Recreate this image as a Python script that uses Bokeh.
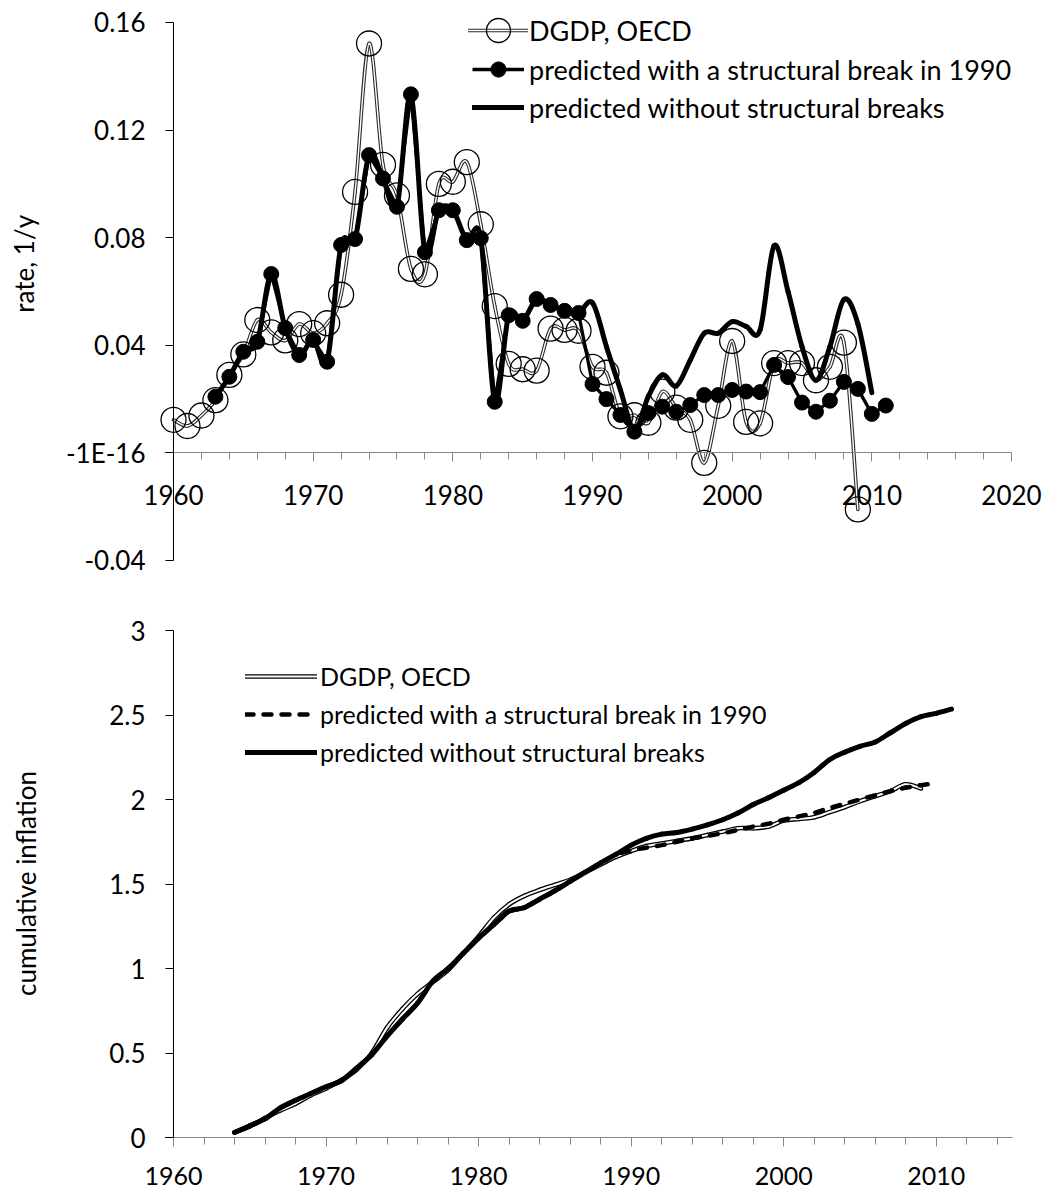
import math
from bokeh.plotting import figure
from bokeh.layouts import column
from bokeh.models import (Range1d, LinearAxis, FixedTicker, Legend, LegendItem,
                          ColumnDataSource, Label)
from bokeh.core.properties import value
from bokeh.embed import file_html
from bokeh.resources import INLINE

FONT = "Lato"

# ---------------- top chart data (rate, 1/y) ----------------
DGDP_YEARS = list(range(1960, 2010))
DGDP_RATE = [0.0123, 0.0100, 0.0139, 0.0196, 0.0290, 0.0366, 0.0494, 0.0448, 0.0418, 0.0479,
             0.0445, 0.0482, 0.0588, 0.0970, 0.1522, 0.1071, 0.0957, 0.0684, 0.0664, 0.1000,
             0.1008, 0.1081, 0.0850, 0.0546, 0.0331, 0.0311, 0.0306, 0.0462, 0.0457, 0.0454,
             0.0320, 0.0298, 0.0136, 0.0140, 0.0112, 0.0228, 0.0168, 0.0123, -0.0037, 0.0175,
             0.0416, 0.0115, 0.0110, 0.0334, 0.0334, 0.0334, 0.0270, 0.0320, 0.0410, -0.0210]

BREAK_YEARS = list(range(1963, 2012))
BREAK_RATE = [0.0209, 0.0283, 0.0376, 0.0413, 0.0665, 0.0464, 0.0364, 0.0420, 0.0339, 0.0773,
              0.0795, 0.1107, 0.1020, 0.0915, 0.1333, 0.0746, 0.0902, 0.0902, 0.0791, 0.0798,
              0.0190, 0.0512, 0.0491, 0.0572, 0.0550, 0.0528, 0.0520, 0.0256, 0.0200, 0.0141,
              0.0079, 0.0148, 0.0172, 0.0153, 0.0178, 0.0215, 0.0215, 0.0234, 0.0228, 0.0226,
              0.0327, 0.0282, 0.0187, 0.0153, 0.0194, 0.0264, 0.0238, 0.0145, 0.0176]

NOBREAK_YEARS = list(range(1963, 2011))
NOBREAK_RATE = [0.0209, 0.0283, 0.0376, 0.0413, 0.0665, 0.0464, 0.0364, 0.0420, 0.0339, 0.0773,
                0.0795, 0.1107, 0.1020, 0.0915, 0.1333, 0.0746, 0.0902, 0.0902, 0.0791, 0.0798,
                0.0190, 0.0512, 0.0491, 0.0572, 0.0550, 0.0528, 0.0520, 0.0558, 0.0395, 0.0234,
                0.0085, 0.0210, 0.0290, 0.0249, 0.0345, 0.0445, 0.0445, 0.0488, 0.0470, 0.0457,
                0.0770, 0.0600, 0.0395, 0.0270, 0.0395, 0.0570, 0.0480, 0.0224]

TOP_X_MAJOR = [1960, 1970, 1980, 1990, 2000, 2010, 2020]
TOP_X_MINOR = list(range(1960, 2021, 2))
TOP_Y_TICKS = [-0.04, 0, 0.04, 0.08, 0.12, 0.16]
TOP_Y_LABELS = ["-0.04", "-1E-16", "0.04", "0.08", "0.12", "0.16"]

# ---------------- bottom chart data (cumulative inflation) ----------------
CUM_DGDP_YEARS = list(range(1964, 2010))
CUM_DGDP = [0.03, 0.065, 0.115, 0.16, 0.20, 0.25, 0.29, 0.34, 0.40, 0.50,
            0.65, 0.76, 0.85, 0.92, 0.99, 1.09, 1.19, 1.30, 1.38, 1.43,
            1.465, 1.495, 1.525, 1.57, 1.615, 1.66, 1.695, 1.725, 1.74, 1.755,
            1.77, 1.79, 1.81, 1.83, 1.83, 1.84, 1.875, 1.885, 1.895, 1.925,
            1.955, 1.99, 2.02, 2.05, 2.09, 2.065]

CUM_BREAK_YEARS = list(range(1964, 2011))
CUM_BREAK = [0.03, 0.07, 0.11, 0.175, 0.22, 0.26, 0.30, 0.335, 0.41, 0.49,
             0.60, 0.70, 0.795, 0.925, 1.0, 1.09, 1.18, 1.26, 1.34, 1.36,
             1.41, 1.46, 1.515, 1.57, 1.625, 1.675, 1.70, 1.715, 1.73, 1.75,
             1.77, 1.785, 1.80, 1.82, 1.84, 1.856, 1.88, 1.90, 1.92, 1.95,
             1.975, 2.00, 2.025, 2.05, 2.07, 2.085, 2.096]

CUM_NOBREAK_YEARS = list(range(1964, 2012))
CUM_NOBREAK = [0.03, 0.07, 0.11, 0.175, 0.22, 0.26, 0.30, 0.335, 0.41, 0.49,
               0.60, 0.70, 0.795, 0.925, 1.0, 1.09, 1.18, 1.26, 1.34, 1.36,
               1.41, 1.46, 1.515, 1.57, 1.625, 1.675, 1.73, 1.77, 1.795, 1.805,
               1.825, 1.85, 1.88, 1.92, 1.97, 2.01, 2.055, 2.10, 2.16, 2.235,
               2.28, 2.315, 2.34, 2.395, 2.45, 2.49, 2.51, 2.535]

BOT_X_MAJOR = [1960, 1970, 1980, 1990, 2000, 2010]
BOT_X_MINOR = list(range(1960, 2015, 2))
BOT_Y_TICKS = [0, 0.5, 1, 1.5, 2, 2.5, 3]
BOT_Y_LABELS = ["0", "0.5", "1", "1.5", "2", "2.5", "3"]

LABEL_DGDP = "DGDP, OECD"
LABEL_BREAK = "predicted with a structural break in 1990"
LABEL_NOBREAK = "predicted without structural breaks"
TOP_Y_TITLE = "rate, 1/y"
BOT_Y_TITLE = "cumulative inflation"


def smooth_source(xs, ys):
    """Cubic Bezier segments (Excel-style smoothed line) through the data points."""
    n = len(xs)
    d = dict(x0=[], y0=[], x1=[], y1=[], cx0=[], cy0=[], cx1=[], cy1=[])
    for i in range(n - 1):
        a = max(i - 1, 0)
        b = min(i + 2, n - 1)
        d["x0"].append(xs[i]); d["y0"].append(ys[i])
        d["x1"].append(xs[i + 1]); d["y1"].append(ys[i + 1])
        d["cx0"].append(xs[i] + (xs[i + 1] - xs[a]) / 6.0)
        d["cy0"].append(ys[i] + (ys[i + 1] - ys[a]) / 6.0)
        d["cx1"].append(xs[i + 1] - (xs[b] - xs[i]) / 6.0)
        d["cy1"].append(ys[i + 1] - (ys[b] - ys[i]) / 6.0)
    return ColumnDataSource(d)


def smooth(p, xs, ys, **kw):
    return p.bezier(x0="x0", y0="y0", x1="x1", y1="y1", cx0="cx0", cy0="cy0",
                    cx1="cx1", cy1="cy1", source=smooth_source(xs, ys), **kw)


def style_axis(ax, color, major_out, minor_out, size="26px"):
    ax.axis_line_color = color
    ax.major_tick_line_color = color
    ax.minor_tick_line_color = color if minor_out else None
    ax.major_tick_out = major_out
    ax.major_tick_in = 0
    ax.minor_tick_out = minor_out
    ax.minor_tick_in = 0
    ax.major_label_text_font = FONT
    ax.major_label_text_font_size = size
    ax.major_label_text_color = "black"


def legend(items, loc, gw, gh, standoff, size):
    return Legend(items=items, location=loc, glyph_width=gw, glyph_height=gh,
                  label_height=gh, padding=0, margin=0, spacing=0,
                  label_standoff=standoff, border_line_color=None,
                  background_fill_alpha=0, label_text_font=FONT,
                  label_text_font_size=size, label_text_color="black")


def title_label(x, y, x_offset, text):
    return Label(x=x, y=y, x_offset=x_offset, text=text, angle=math.pi / 2,
                 text_align="center", text_baseline="middle", text_font=FONT,
                 text_font_size="26px", text_color="black")


W = 1046
# Both plotting frames fill their whole canvas; the axes are drawn through
# the origin of each chart and limited to their own bounds.

# ================= TOP CHART =================
p1 = figure(width=W, height=580, x_range=Range1d(1947.6134, 2022.506),
            y_range=Range1d(-0.047435, 0.168178), x_axis_type=None, y_axis_type=None,
            toolbar_location=None, output_backend="svg",
            min_border_left=0, min_border_right=0, min_border_top=0, min_border_bottom=0)
p1.outline_line_color = None

xa1 = LinearAxis(fixed_location=0, bounds=(1959.35, 2020),
                 ticker=FixedTicker(ticks=TOP_X_MAJOR, minor_ticks=TOP_X_MINOR))
style_axis(xa1, "#868686", 9, 7)
xa1.major_label_standoff = 23
p1.add_layout(xa1, "below")

ya1 = LinearAxis(fixed_location=1960, bounds=(-0.04, 0.16), ticker=FixedTicker(ticks=TOP_Y_TICKS))
style_axis(ya1, "black", 8, 0)
ya1.major_label_overrides = dict(zip(TOP_Y_TICKS, TOP_Y_LABELS))
ya1.major_label_standoff = 20
p1.add_layout(ya1, "left")

p1.add_layout(title_label(1960, 0.0703, -149, TOP_Y_TITLE))

r_d_dark = smooth(p1, DGDP_YEARS, DGDP_RATE, line_color="#2a2a2a", line_width=3.6, line_cap="round")
r_d_white = smooth(p1, DGDP_YEARS, DGDP_RATE, line_color="white", line_width=1.4, line_cap="round")
r_d_circ = p1.scatter(DGDP_YEARS, DGDP_RATE, marker="circle", size=25, fill_color=None,
                      line_color="black", line_width=1.3)
r_b_line = p1.line(BREAK_YEARS, BREAK_RATE, line_color="black", line_width=3.3, line_join="round")
r_b_dots = p1.scatter(BREAK_YEARS, BREAK_RATE, marker="circle", size=15, fill_color="black",
                      line_color="black")
r_n_line = smooth(p1, NOBREAK_YEARS, NOBREAK_RATE, line_color="black", line_width=5, line_cap="round")

p1.add_layout(legend([LegendItem(label=value(LABEL_DGDP), renderers=[r_d_dark, r_d_white, r_d_circ])],
                     (468, 520), 60, 60, 1, "27px"))
p1.add_layout(legend([LegendItem(label=value(LABEL_BREAK), renderers=[r_b_line, r_b_dots]),
                      LegendItem(label=value(LABEL_NOBREAK), renderers=[r_n_line])],
                     (472, 454), 52, 38, 5, "27px"))

# ================= BOTTOM CHART =================
p2 = figure(width=W, height=619, x_range=Range1d(1948.6591, 2017.2289),
            y_range=Range1d(-0.366864, 3.295858), x_axis_type=None, y_axis_type=None,
            toolbar_location=None, output_backend="svg",
            min_border_left=0, min_border_right=0, min_border_top=0, min_border_bottom=0)
p2.outline_line_color = None

xa2 = LinearAxis(fixed_location=0, bounds=(1959.41, 2015),
                 ticker=FixedTicker(ticks=BOT_X_MAJOR, minor_ticks=BOT_X_MINOR))
style_axis(xa2, "#868686", 9, 7, "25px")
xa2.major_label_standoff = 20
p2.add_layout(xa2, "below")

ya2 = LinearAxis(fixed_location=1960, bounds=(0, 3), ticker=FixedTicker(ticks=BOT_Y_TICKS))
style_axis(ya2, "black", 8, 0)
ya2.major_label_overrides = dict(zip(BOT_Y_TICKS, BOT_Y_LABELS))
ya2.major_label_standoff = 20
p2.add_layout(ya2, "left")

p2.add_layout(title_label(1960, 1.503, -148, BOT_Y_TITLE))

c_d_dark = smooth(p2, CUM_DGDP_YEARS, CUM_DGDP, line_color="black", line_width=4.6, line_cap="round")
c_d_white = smooth(p2, CUM_DGDP_YEARS, CUM_DGDP, line_color="white", line_width=2.0, line_cap="round")
c_b = p2.line(CUM_BREAK_YEARS, CUM_BREAK, line_color="black", line_width=4.5,
              line_dash="8 10", line_cap="round")
c_n = smooth(p2, CUM_NOBREAK_YEARS, CUM_NOBREAK, line_color="black", line_width=5, line_cap="round")

p2.add_layout(legend([LegendItem(label=value(LABEL_DGDP), renderers=[c_d_dark, c_d_white]),
                      LegendItem(label=value(LABEL_BREAK), renderers=[c_b]),
                      LegendItem(label=value(LABEL_NOBREAK), renderers=[c_n])],
                     (245, 428), 72, 38, 3, "25px"))

layout = column(p1, p2)
open("out.html", "w").write(file_html(layout, INLINE))
